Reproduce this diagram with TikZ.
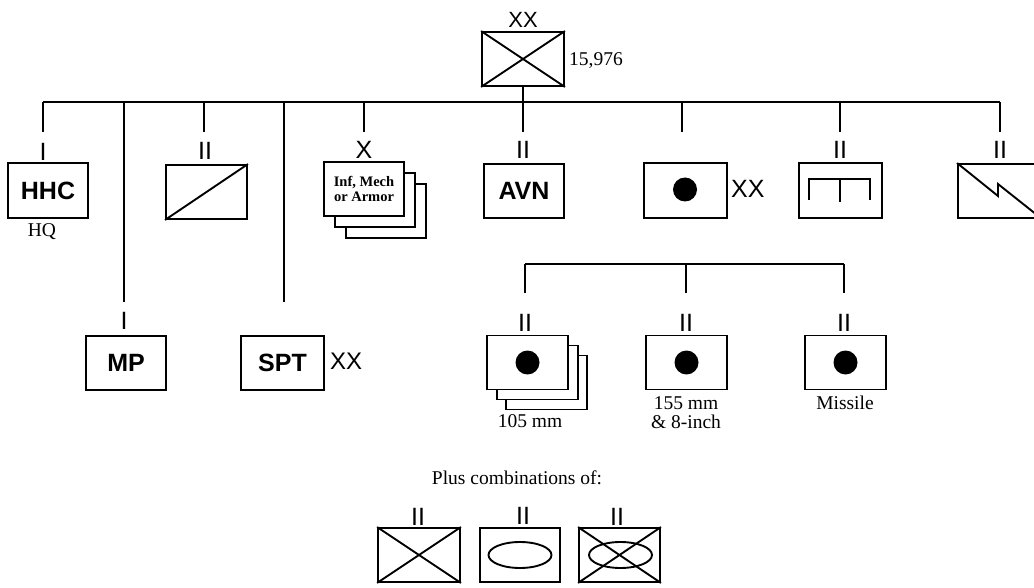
\documentclass[tikz,border=0pt]{standalone}
\usepackage{fontspec}
\setmainfont{Liberation Serif}
\newfontfamily\arialf{Liberation Sans}
\begin{document}
\begin{tikzpicture}[x=1pt,y=-1pt,
  ln/.style={line width=1.9pt},
  unitbox/.style={draw, line width=1.9pt, minimum width=81pt, minimum height=54pt, inner sep=0pt, fill=white},
  ech/.style={font=\arialf\fontsize{25}{25}\selectfont, inner sep=0pt},
  big/.style={font=\arialf\bfseries\fontsize{25}{25}\selectfont},
  ser/.style={font=\fontsize{19.5}{20}\selectfont, inner sep=0pt},
  dot/.style={fill=black, circle, inner sep=0pt, minimum size=24pt}]
\useasboundingbox (0,0) rectangle (1034,588);
\clip (0,0) rectangle (1034,588);

% top division
\node[unitbox, minimum width=82pt] (div) at (523,59) {};
\draw[ln] (div.north west) -- (div.south east) (div.south west) -- (div.north east);
\node[ech, font=\arialf\fontsize{22}{22}\selectfont] (divech) at (523,20) {XX};
\node[ser, anchor=west] (strength) at (569,61) {15,976};

% main bar
\coordinate (barL) at (43,102);
\coordinate (barR) at (1000,102);
\coordinate (barC) at (523,102);
\draw[ln] (div.south) -- (barC);
\draw[ln] (barL) -- (barR);

% drops
\foreach \n/\x/\y in {hhc/43/132, mp/124/302, sl/204/132, spt/284/302, br/364/132, avn/523/132, da/682/132, eng/840/132, sig/1000/132}{
  \coordinate (\n top) at (\x,102);
  \coordinate (\n end) at (\x,\y);
  \draw[ln] (\n top) -- (\n end);
}

% HHC
\node[ech] (hhcech) at (43,152) {I};
\node[unitbox, big, minimum width=80pt, minimum height=55pt] (hhc) at (48,190.5) {HHC};
\node[ser] (hq) at (42,232) {HQ};

% slash box
\node[ech] (slech) at (205,151) {II};
\node[unitbox] (sl) at (206.5,192) {};
\draw[ln] (sl.south west) -- (sl.north east);

% brigades
\node[ech] (brech) at (364,150) {X};
\node[unitbox, minimum width=80pt] (br3) at (386,211) {};
\node[unitbox, minimum width=80pt] (br2) at (375,200) {};
\node[unitbox, minimum width=80pt, align=center, font=\bfseries\fontsize{14.5}{15}\selectfont] (br1) at (364,189) {Inf, Mech\\or Armor};

% AVN
\node[ech] (avnech) at (523,150) {II};
\node[unitbox, big, minimum width=80pt] (avn) at (524,191) {AVN};

% DIVARTY
\node[unitbox, minimum width=83pt, minimum height=55pt] (da) at (685.5,190.5) {};
\node[dot] (dadot) at (685,189.5) {};
\node[anchor=west, inner sep=0pt, font=\arialf\fontsize{25}{25}\selectfont] (daech) at (731,189) {XX};

% Engineer
\node[ech] (engech) at (840,150) {II};
\node[unitbox, minimum width=83pt, minimum height=55pt] (eng) at (840.5,190.5) {};
\draw[ln] (809,200) -- (809,179) -- (870,179) -- (870,200);
\draw[ln] (840,179) -- (840,202);

% Signal
\node[ech] (sigech) at (1000,150) {II};
\node[unitbox, minimum width=83pt] (sig) at (999.5,191) {};
\draw[ln] (sig.north west) -- (998,196) -- (998,184) -- (sig.south east);

% MP
\node[ech] (mpech) at (124,321) {I};
\node[unitbox, big, minimum width=80pt] (mp) at (126,363) {MP};

% SPT
\node[unitbox, big, minimum width=83pt] (spt) at (282.5,363) {SPT};
\node[anchor=west, inner sep=0pt, font=\arialf\fontsize{24}{24}\selectfont] (sptech) at (330,361) {XX};

% artillery battalions
\coordinate (abL) at (525,264);
\coordinate (abC) at (686,264);
\coordinate (abR) at (844,264);
\draw[ln] (abL) -- (abR);
\foreach \n/\x in {a1/525, a2/686, a3/844}{
  \coordinate (\n end) at (\x,293);
}
\draw[ln] (abL) -- (a1end);
\draw[ln] (abC) -- (a2end);
\draw[ln] (abR) -- (a3end);
\node[ech] (a1ech) at (525,323) {II};
\node[ech] (a2ech) at (686,323) {II};
\node[ech] (a3ech) at (844,323) {II};

\node[unitbox] (a1c) at (546.5,382.5) {};
\node[unitbox] (a1b) at (537.5,372.5) {};
\node[unitbox] (a1) at (527.5,362.5) {};
\node[dot] (a1dot) at (527.5,362.5) {};
\node[ser] (a1lab) at (530,421) {105 mm};

\node[unitbox] (a2) at (686.5,362.5) {};
\node[dot] (a2dot) at (686.5,362.5) {};
\node[ser] (a2lab) at (686,403) {155 mm};
\node[ser] (a2lab2) at (686,422) {\& 8-inch};

\node[unitbox] (a3) at (845.5,362.5) {};
\node[dot] (a3dot) at (845.5,362.5) {};
\node[ser] (a3lab) at (845,403) {Missile};

% combinations
\node[ser] (plus) at (517,478) {Plus combinations of:};
\node[ech] (c1ech) at (418,517) {II};
\node[ech] (c2ech) at (523,516) {II};
\node[ech] (c3ech) at (617,517) {II};
\node[unitbox, minimum width=82pt] (c1) at (419,555) {};
\draw[ln] (c1.north west) -- (c1.south east) (c1.south west) -- (c1.north east);
\node[unitbox, minimum width=80pt] (c2) at (520,555) {};
\draw[ln] (c2.center) ellipse [x radius=31.5, y radius=13];
\node[unitbox, minimum width=81pt] (c3) at (619.5,555) {};
\draw[ln] (c3.north west) -- (c3.south east) (c3.south west) -- (c3.north east);
\draw[ln] (620.5,555) ellipse [x radius=31.5, y radius=13];
\end{tikzpicture}
\end{document}
